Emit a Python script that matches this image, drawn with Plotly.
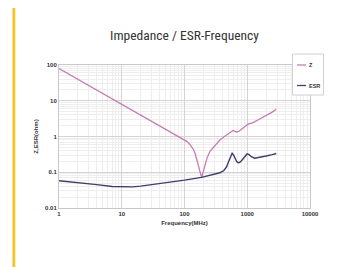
import plotly.graph_objects as go

# ---- data ----
z_freq = [1, 2, 5, 10, 20, 40, 60, 85, 100, 110, 122, 132, 140, 148, 156, 164, 172, 180, 187,
          193, 200, 211, 230, 254, 300, 366, 450, 527, 570, 595, 635, 673,
          740, 809, 900, 1030, 1150, 1240, 1500, 2000, 2500, 2900]
z_vals = [80, 40, 16, 8.0, 4.0, 2.0, 1.33, 0.94, 0.80, 0.72, 0.60, 0.50, 0.42, 0.33, 0.23,
          0.165, 0.12, 0.088, 0.072,
          0.085, 0.11, 0.16, 0.26, 0.38, 0.55, 0.80, 1.05, 1.28, 1.40, 1.47, 1.40, 1.34,
          1.40, 1.55, 1.85, 2.22, 2.35, 2.45, 2.95, 3.8, 4.8, 5.8]

esr_freq = [1, 2, 4, 7, 10, 15, 20, 30, 50, 100, 187, 300, 366, 420, 467,
            500, 527, 555, 574, 600, 634, 680, 715, 760, 809, 900, 993, 1070,
            1164, 1310, 1600, 2000, 2500, 2900]
esr_vals = [0.058, 0.052, 0.045, 0.040, 0.039, 0.039, 0.041, 0.045, 0.050, 0.060, 0.072,
            0.088, 0.097, 0.11, 0.14, 0.19, 0.25, 0.31, 0.34, 0.31, 0.245, 0.20, 0.185,
            0.19, 0.21, 0.27, 0.325, 0.31, 0.272, 0.248, 0.26, 0.285, 0.31, 0.335]

x_tickvals = [1, 10, 100, 1000, 10000]
x_ticktext = ["1", "10", "100", "1000", "10000"]
y_tickvals = [0.01, 0.1, 1, 10, 100]
y_ticktext = ["0.01", "0.1", "1", "10", "100"]

series_names = ["Z", "ESR"]
series_colors = ["#c47db3", "#3d3f6b"]

# page body has an 8px margin; the figure is sized to fit the 340x267 window
OFF = 8
W, H = 340 - OFF, 267 - OFF
L, T = 58.5 - OFF, 65 - OFF
pw, ph = 252, 143
R, B = W - L - pw, H - T - ph


def px(x):
    return (x - OFF - L) / pw


def py(y):
    return (T + ph - (y - OFF)) / ph


fig = go.Figure()
fig.add_trace(go.Scatter(x=z_freq, y=z_vals, mode="lines", name=series_names[0],
                         line=dict(color=series_colors[0], width=1.3), showlegend=False))
fig.add_trace(go.Scatter(x=esr_freq, y=esr_vals, mode="lines", name=series_names[1],
                         line=dict(color=series_colors[1], width=1.4), showlegend=False))

tickfont = dict(family="Liberation Sans, Arial", size=6, color="#333333", weight="bold")

fig.update_xaxes(type="log", range=[0, 4], tickmode="array", tickvals=x_tickvals,
                 ticktext=x_ticktext, showgrid=True, gridcolor="#d4d4d4", gridwidth=1,
                 minor=dict(tickmode="array",
                            tickvals=[m * 10 ** e for e in range(0, 4) for m in range(2, 10)],
                            showgrid=True, gridcolor="#eeeeee", gridwidth=1),
                 showline=True, linecolor="#c8c8c8", linewidth=1, mirror=True,
                 zeroline=False, tickfont=tickfont, ticks="", automargin=False,
                 title=dict(text="Frequency(MHz)", font=tickfont, standoff=4))
fig.update_yaxes(type="log", range=[-2, 2], tickmode="array", tickvals=y_tickvals,
                 ticktext=y_ticktext, showgrid=True, gridcolor="#d4d4d4", gridwidth=1,
                 minor=dict(tickmode="array",
                            tickvals=[m * 10 ** e for e in range(-2, 2) for m in range(2, 10)],
                            showgrid=True, gridcolor="#eeeeee", gridwidth=1),
                 showline=True, linecolor="#c8c8c8", linewidth=1, mirror=True,
                 zeroline=False, tickfont=tickfont, ticks="", automargin=False,
                 title=dict(text="Z,ESR(ohm)", font=tickfont, standoff=6))

shapes = []
# yellow accent bar
shapes.append(dict(type="rect", xref="paper", yref="paper",
                   x0=px(11.8), x1=px(14.6), y0=py(5), y1=py(275),
                   fillcolor="#f6c324", line=dict(width=0), layer="above"))
# legend box
shapes.append(dict(type="rect", xref="paper", yref="paper",
                   x0=px(293), x1=px(324), y0=py(95), y1=py(54),
                   fillcolor="white", line=dict(color="#d0d0d0", width=1), layer="above"))
annotations = []
legend_y = [65, 85.5]
for name, col, ly in zip(series_names, series_colors, legend_y):
    shapes.append(dict(type="line", xref="paper", yref="paper",
                       x0=px(297.5), x1=px(306.5), y0=py(ly), y1=py(ly),
                       line=dict(color=col, width=1.3), layer="above"))
    annotations.append(dict(xref="paper", yref="paper", x=px(307.5), y=py(ly),
                            xanchor="left", yanchor="middle", showarrow=False,
                            text=name, font=dict(family="Liberation Sans, Arial", size=5.5,
                                                 color="#333333", weight="bold")))

fig.update_layout(
    width=W, height=H,
    margin=dict(l=L, r=R, t=T, b=B, pad=0),
    paper_bgcolor="white", plot_bgcolor="white",
    title=dict(text="Impedance / ESR-Frequency", x=(184.5 - OFF) / W, xanchor="center",
               y=1 - (35 - OFF) / H, yanchor="middle",
               font=dict(family="Liberation Sans Narrow, Roboto Condensed, Roboto, Arial",
                         size=13.5, color="#333333")),
    shapes=shapes, annotations=annotations, showlegend=False,
)

fig.write_html("out.html")
